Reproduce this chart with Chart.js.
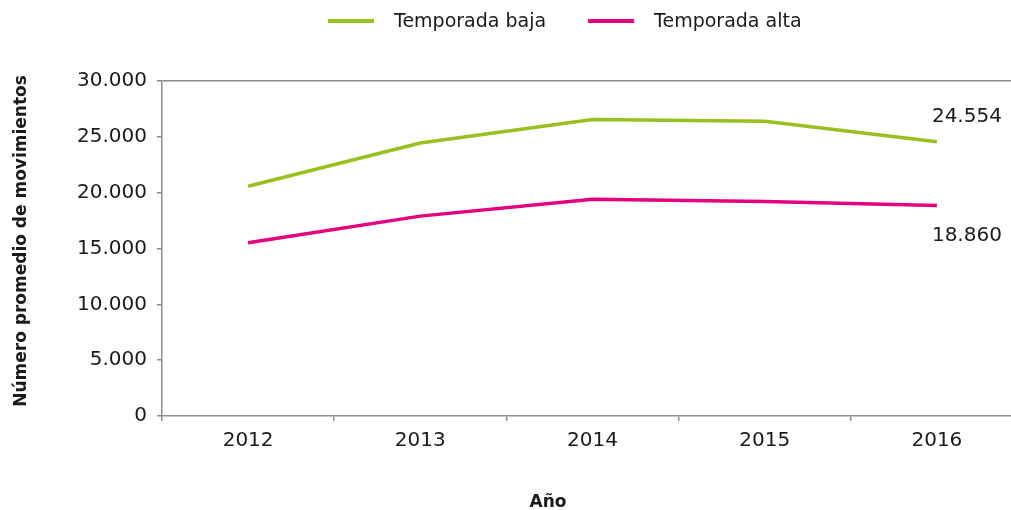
<!DOCTYPE html>
<html>
<head>
<meta charset="utf-8">
<script src="https://cdn.jsdelivr.net/npm/chart.js@4.4.0/dist/chart.umd.min.js"></script>
<style>
  html, body { margin: 0; padding: 0; background: #fff; overflow: hidden; }
  #wrap { width: 1023px; height: 510px; }
</style>
</head>
<body>
<div id="wrap"><canvas id="lineChart" width="1023" height="510"></canvas></div>
<script>
// datos
const years = ["2012", "2013", "2014", "2015", "2016"];
const bajaValues = [20570, 24450, 26560, 26400, 24554];
const altaValues = [15510, 17900, 19400, 19220, 18860];
const seriesNames = ["Temporada baja", "Temporada alta"];
const yTicks = [0, 5000, 10000, 15000, 20000, 25000, 30000];

const FONT = "'DejaVu Sans', sans-serif";
const TEXT = "#1a1a1a";
const AXIS = "#8c8c8c";

// formato con punto de miles
function fmt(v) {
  return String(Math.round(v)).replace(/\B(?=(\d{3})+(?!\d))/g, ".");
}

// leyenda arriba
const legendPlugin = {
  id: "topLegend",
  afterDraw(chart) {
    const c = chart.ctx;
    c.save();
    c.font = "19px " + FONT;
    c.textBaseline = "middle";
    let x = 328;
    const y = 21;
    chart.data.datasets.forEach(ds => {
      c.strokeStyle = ds.borderColor;
      c.lineWidth = 4;
      c.beginPath();
      c.moveTo(x, y);
      c.lineTo(x + 46, y);
      c.stroke();
      x += 46 + 20;
      c.fillStyle = TEXT;
      c.fillText(ds.label, x, y + 1);
      x += c.measureText(ds.label).width + 42;
    });
    c.restore();
  }
};

// etiqueta del último valor + títulos de ejes
const labelsPlugin = {
  id: "lastLabels",
  afterDatasetsDraw(chart) {
    const c = chart.ctx;
    c.save();
    c.font = "20px " + FONT;
    c.fillStyle = TEXT;
    c.textAlign = "center";
    c.textBaseline = "middle";
    chart.data.datasets.forEach((ds, i) => {
      const meta = chart.getDatasetMeta(i);
      const last = meta.data[meta.data.length - 1];
      const v = ds.data[ds.data.length - 1];
      c.fillText(fmt(v), last.x + 30, last.y + ds.labelDy);
    });
    c.font = "bold 17px " + FONT;
    c.fillText("Año", 548, 503);
    c.translate(22, 241);
    c.rotate(-Math.PI / 2);
    c.fillText("Número promedio de movimientos", 0, 0);
    c.restore();
  }
};

new Chart(document.getElementById("lineChart"), {
  type: "line",
  data: {
    labels: years,
    datasets: [
      {
        label: seriesNames[0],
        data: bajaValues,
        borderColor: "#97c11f",
        borderWidth: 3.5,
        pointRadius: 0,
        tension: 0,
        labelDy: -25
      },
      {
        label: seriesNames[1],
        data: altaValues,
        borderColor: "#e5007e",
        borderWidth: 3.5,
        pointRadius: 0,
        tension: 0,
        labelDy: 30
      }
    ]
  },
  options: {
    responsive: false,
    animation: false,
    layout: { padding: { top: 81, right: 0, bottom: 0, left: 0 } },
    plugins: {
      legend: { display: false },
      tooltip: { enabled: false }
    },
    scales: {
      x: {
        offset: true,
        grid: { offset: true, drawOnChartArea: false, color: AXIS, tickLength: 5, lineWidth: 1.5 },
        border: { color: AXIS, width: 1.5 },
        ticks: { padding: 8, color: TEXT, font: { family: FONT, size: 20 } },
        afterFit: s => { s.height = 94; }
      },
      y: {
        min: 0,
        max: 30000,
        afterBuildTicks: s => { s.ticks = yTicks.map(v => ({ value: v })); },
        ticks: {
          padding: 10,
          color: TEXT,
          font: { family: FONT, size: 20 },
          callback: v => fmt(v)
        },
        grid: {
          color: ctx => (ctx.tick && ctx.tick.value === 30000 ? AXIS : "rgba(0,0,0,0)"),
          tickColor: AXIS,
          tickLength: 5,
          lineWidth: 1.5
        },
        border: { color: AXIS, width: 1.5 },
        afterFit: s => { s.width = 162; }
      }
    }
  },
  plugins: [legendPlugin, labelsPlugin]
});
</script>
</body>
</html>
